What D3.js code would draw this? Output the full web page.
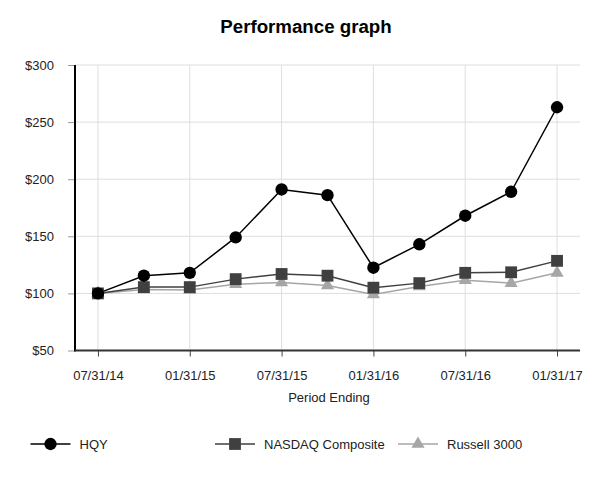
<!DOCTYPE html>
<html>
<head>
<meta charset="utf-8">
<script src="https://cdn.jsdelivr.net/npm/d3@7"></script>
<style>
  html, body { margin: 0; padding: 0; background: #fff; }
  svg { display: block; font-family: "Liberation Sans", Arial, sans-serif; }
</style>
</head>
<body>
<svg id="chart" width="613" height="480"></svg>
<script>
const periods = ["07/31/14","10/31/14","01/31/15","04/30/15","07/31/15","10/31/15","01/31/16","04/30/16","07/31/16","10/31/16","01/31/17"];
const tickLabels = ["07/31/14","01/31/15","07/31/15","01/31/16","07/31/16","01/31/17"];
const yTicks = [50, 100, 150, 200, 250, 300];
const hqy     = [100, 115.5, 118, 149, 191, 186, 122.5, 143, 168, 189, 263];
const nasdaq  = [100, 105.5, 105.5, 112.5, 117, 115.5, 105, 109, 118, 118.5, 128.5];
const russell = [100, 103.5, 103, 108, 109.5, 107, 99, 106, 111.5, 109, 118];
const seriesNames = ["HQY", "NASDAQ Composite", "Russell 3000"];

const svg = d3.select("#chart");
const L = 75, R = 580, T = 65, B = 350.5;
const FONT = "Liberation Sans, Arial, sans-serif";

const x = d3.scalePoint().domain(periods).range([L, R]).padding(0.5);
const y = d3.scaleLinear().domain([50, 300]).range([B, T]);

// title
svg.append("text").attr("x", 306).attr("y", 33).attr("text-anchor", "middle")
  .attr("font-size", 18.7).attr("font-weight", "bold").attr("fill", "#000")
  .text("Performance graph");

// grid
const grid = svg.append("g");
grid.selectAll("line.h").data(yTicks.slice(1)).join("line")
  .attr("x1", L).attr("x2", R).attr("y1", d => y(d)).attr("y2", d => y(d))
  .attr("stroke", "#dedede").attr("stroke-width", 1);
grid.selectAll("line.v").data(tickLabels).join("line")
  .attr("x1", d => x(d)).attr("x2", d => x(d)).attr("y1", T).attr("y2", B)
  .attr("stroke", "#dedede").attr("stroke-width", 1);

// y axis
const yAxis = svg.append("g").attr("transform", `translate(${L},0)`)
  .call(d3.axisLeft(y).tickValues(yTicks).tickFormat(d => "$" + d).tickSize(7).tickPadding(14));
yAxis.select(".domain").remove();
yAxis.selectAll(".tick line").attr("stroke", "#999");
yAxis.selectAll(".tick text").attr("font-size", 13).attr("fill", "#222").attr("font-family", FONT);
svg.append("line").attr("x1", L).attr("x2", L).attr("y1", T).attr("y2", B + 1)
  .attr("stroke", "#000").attr("stroke-width", 2);

// x axis
const xAxis = svg.append("g").attr("transform", `translate(0,${B})`)
  .call(d3.axisBottom(x).tickValues(tickLabels).tickSize(6).tickPadding(14));
xAxis.select(".domain").remove();
xAxis.selectAll(".tick line").attr("stroke", "#444");
xAxis.selectAll(".tick text").attr("font-size", 13).attr("fill", "#222").attr("font-family", FONT);
svg.append("line").attr("x1", L).attr("x2", R).attr("y1", B).attr("y2", B)
  .attr("stroke", "#333").attr("stroke-width", 2.2);

svg.append("text").attr("x", 329).attr("y", 402).attr("text-anchor", "middle")
  .attr("font-size", 13).attr("fill", "#222").text("Period Ending");

// series
const styles = [
  { data: hqy, color: "#000000", marker: d3.symbolCircle, size: 120, width: 1.5 },
  { data: nasdaq, color: "#404040", marker: d3.symbolSquare, size: 140, width: 1.5 },
  { data: russell, color: "#a6a6a6", marker: d3.symbolTriangle, size: 75, width: 1.5 }
];
const line = d3.line().x((d, i) => x(periods[i])).y(d => y(d));
const drawOrder = [2, 1, 0];
drawOrder.forEach(k => {
  const s = styles[k];
  svg.append("path").datum(s.data).attr("d", line)
    .attr("fill", "none").attr("stroke", s.color).attr("stroke-width", s.width);
});
drawOrder.forEach(k => {
  const s = styles[k];
  svg.append("g").selectAll("path").data(s.data).join("path")
    .attr("transform", (d, i) => `translate(${x(periods[i])},${y(d)})`)
    .attr("d", d3.symbol().type(s.marker).size(s.size))
    .attr("fill", s.color);
});

// legend
const legendX = [30.5, 215, 398];
const legendW = 40;
const ly = 444;
styles.forEach((s, k) => {
  const g = svg.append("g").attr("transform", `translate(${legendX[k]},${ly})`);
  g.append("line").attr("x1", 0).attr("x2", legendW).attr("y1", 0).attr("y2", 0)
    .attr("stroke", s.color).attr("stroke-width", s.width);
  g.append("path").attr("transform", `translate(${legendW / 2},0)`)
    .attr("d", d3.symbol().type(s.marker).size(s.size)).attr("fill", s.color);
  g.append("text").attr("x", legendW + 9).attr("y", 4.7)
    .attr("font-size", 13).attr("fill", "#222").text(seriesNames[k]);
});
</script>
</body>
</html>
